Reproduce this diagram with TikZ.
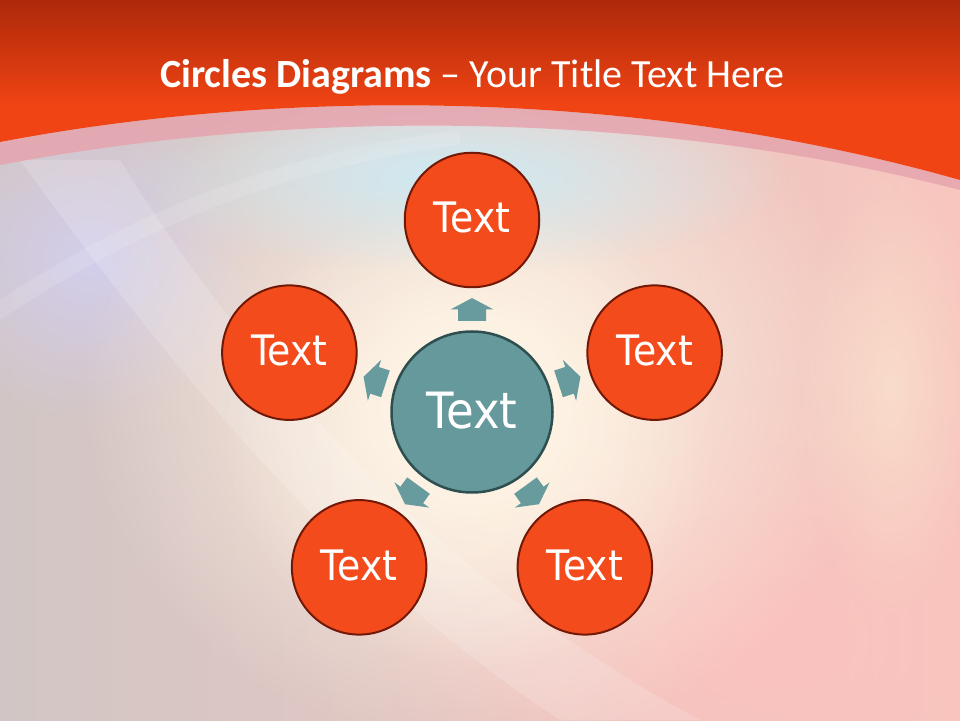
\documentclass[tikz,border=0pt]{standalone}
\usepackage{fontspec}
\setmainfont{Carlito}
\newfontfamily\lblfont[FakeStretch=0.9]{DejaVu Sans}
\usetikzlibrary{calc,fadings}
\tikzfading[name=glowfade, inner color=transparent!0, outer color=transparent!100]
\definecolor{redtop}{HTML}{AD2909}
\definecolor{redbot}{HTML}{F04414}
\definecolor{pinkband}{HTML}{E6A4AE}
\definecolor{bgleft}{HTML}{D1C6C5}
\definecolor{bgright}{HTML}{F8C6BE}
\definecolor{glowcol}{HTML}{FFF6E6}
\definecolor{bluetint}{HTML}{CDEAF3}
\definecolor{lavtint}{HTML}{D2CEEC}
\definecolor{creamtint}{HTML}{FCEBD2}
\definecolor{pinktint}{HTML}{FBC2BE}
\definecolor{outerfill}{HTML}{F34B1B}
\definecolor{outerdraw}{HTML}{721806}
\definecolor{cfill}{HTML}{66999B}
\definecolor{cdraw}{HTML}{2E4F4F}
\definecolor{arrowfill}{HTML}{689B9D}
\begin{document}
\begin{tikzpicture}[x=1pt,y=1pt,
  outerc/.style={circle, draw=outerdraw, line width=2pt, fill=outerfill,
    minimum size=134.5pt, inner sep=0pt, text=white, text depth=5pt,
    font=\lblfont\fontsize{42}{42}\selectfont},
  centerc/.style={circle, draw=cdraw, line width=2.5pt, fill=cfill,
    minimum size=161pt, inner sep=0pt, text=white, text depth=4pt,
    font=\lblfont\fontsize{50}{50}\selectfont},
  arrowshape/.style={fill=arrowfill, draw=none},
  titlestyle/.style={text=white, inner sep=0pt, anchor=base,
    font=\fontsize{40}{40}\selectfont}]
\useasboundingbox (0,0) rectangle (960,720);
% ---- background ----
\shade[left color=bgleft, right color=bgright] (0,0) rectangle (960,720);
\fill[pinktint, path fading=glowfade] (760,80) ellipse [x radius=380, y radius=260];
\fill[lavtint, path fading=glowfade] (90,460) ellipse [x radius=170, y radius=160];
\fill[glowcol, path fading=glowfade] (480,330) ellipse [x radius=400, y radius=360];
\fill[glowcol, path fading=glowfade] (470,290) ellipse [x radius=250, y radius=240];
\fill[bluetint, path fading=glowfade] (450,545) ellipse [x radius=340, y radius=100];
\fill[creamtint, opacity=0.6, path fading=glowfade] (890,330) ellipse [x radius=90, y radius=230];
% soft white arcs
\fill[white, opacity=0.16] (20,560) .. controls (150,380) and (330,150) .. (560,0)
  -- (700,0) .. controls (420,150) and (230,380) .. (120,560) -- cycle;
\fill[white, opacity=0.12] (0,420) .. controls (150,520) and (300,570) .. (460,590)
  -- (460,575) .. controls (300,555) and (150,500) .. (0,400) -- cycle;
% pink band
\fill[pinkband, opacity=0.85] (0,578) .. controls (300,635) and (650,628) .. (960,540)
  -- (960,530) .. controls (650,610) and (300,612) .. (0,555) -- cycle;
% red top band
\fill[redbot]
  (0,720) -- (960,720) -- (960,540) .. controls (650,628) and (300,635) .. (0,578) -- cycle;
\shade[top color=redtop, bottom color=redbot] (0,615) rectangle (960,720);
% ---- title ----
\node[titlestyle] (title) at (472.5,632.5) {\textbf{Circles Diagrams} – Your Title Text Here};
% ---- diagram ----
\node[centerc] (c) at (472,308) {Text};
\foreach \i/\a in {1/90,2/162,3/234,4/306,5/18}{
  \node[outerc] (o\i) at ($(c)+(\a:192)$) {Text};
}
\foreach \i/\a in {1/90,2/162,3/234,4/306,5/18}{
  \begin{scope}[shift={($(c)!102.5pt!(o\i)$)}, rotate=\a]
    \fill[arrowshape] (-11.5,-14) -- (0,-14) -- (0,-21.5) -- (11.5,0)
      -- (0,21.5) -- (0,14) -- (-11.5,14) -- cycle;
  \end{scope}
}
\end{tikzpicture}
\end{document}
